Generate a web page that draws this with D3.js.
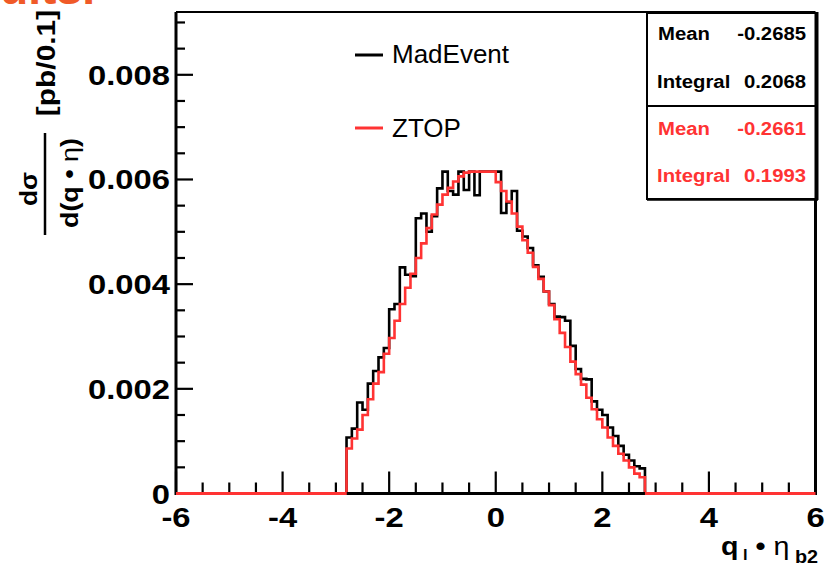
<!DOCTYPE html>
<html><head><meta charset="utf-8">
<script src="https://cdn.jsdelivr.net/npm/d3@7"></script>
<style>body{margin:0;background:#fff} svg{display:block}</style>
</head><body>
<svg id="c" width="828" height="572"></svg>
<script>
// ---- data ----
const binLow = -2.8, binWidth = 0.1;
const madEvent = [
 0.00107,0.00124,0.00174,0.00160,0.00210,0.00234,0.00260,0.00278,0.00352,0.00362,
 0.00432,0.00418,0.00415,0.00526,0.00535,0.00500,0.00530,0.00583,0.00615,0.00578,
 0.00571,0.00615,0.00580,0.00615,0.00570,0.00615,0.00615,0.00615,0.00615,0.00536,
 0.00556,0.00578,0.00502,0.00491,0.00469,0.00436,0.00414,0.00386,0.00362,0.00338,
 0.00337,0.00330,0.00282,0.00238,0.00219,0.00218,0.00176,0.00160,0.00150,0.00126,
 0.00110,0.00091,0.00074,0.00063,0.00052,0.00048];
const ztop = [
 0.00086,0.00105,0.00122,0.00150,0.00180,0.00210,0.00232,0.00267,0.00297,0.00330,
 0.00362,0.00393,0.00420,0.00450,0.00478,0.00507,0.00533,0.00552,0.00571,0.00584,
 0.00596,0.00606,0.00613,0.00615,0.00615,0.00615,0.00615,0.00615,0.00595,0.00578,
 0.00558,0.00535,0.00510,0.00484,0.00460,0.00433,0.00410,0.00386,0.00360,0.00333,
 0.00307,0.00280,0.00252,0.00228,0.00208,0.00183,0.00161,0.00142,0.00126,0.00107,
 0.00091,0.00076,0.00063,0.00050,0.00038,0.00031];
const xTickMajor = [-6,-4,-2,0,2,4,6];
const xTickLabels = ["-6","-4","-2","0","2","4","6"];
const yTickMajor = [0,0.002,0.004,0.006,0.008];
const yTickLabels = ["0","0.002","0.004","0.006","0.008"];
const legendLabels = ["MadEvent","ZTOP"];
const statsMean = ["-0.2685","-0.2661"];
const statsIntegral = ["0.2068","0.1993"];
const seriesColors = ["#000000","#ff3333"];

// ---- layout ----
const svg = d3.select("#c");
const FONT = "'Liberation Sans', Arial, Helvetica, sans-serif";
const x = d3.scaleLinear().domain([-6,6]).range([176,815.5]);
const y = d3.scaleLinear().domain([0,0.0092]).range([493.5,12]);

function stext(str, tx, ty, o){
  const t = svg.append("text")
    .attr("transform", `translate(${tx},${ty})` + (o.rot?` rotate(${o.rot})`:"") + ` scale(${o.sx||1},1)`)
    .attr("font-family", FONT).attr("font-size", o.size)
    .attr("font-weight", o.weight||"bold")
    .attr("text-anchor", o.anchor||"start")
    .attr("fill", o.fill||"#000").text(str);
  return t;
}

// top orange sliver (title text cropped by the picture edge)
stext("ults.", 0, 4, {size:44, fill:"#f05a28", sx:1.05});

// ticks
const minorX = d3.range(-6, 6.001, 0.5);
svg.append("g").selectAll("line").data(minorX).join("line")
  .attr("x1", d=>x(d)).attr("x2", d=>x(d))
  .attr("y1", y(0)).attr("y2", d=> y(0) - (Math.abs(d%2)<1e-9 ? 22 : 11))
  .attr("stroke","#000").attr("stroke-width",2.2);
const minorY = d3.range(0, 0.00901, 0.0005);
svg.append("g").selectAll("line").data(minorY).join("line")
  .attr("x1", x(-6)).attr("x2", d=> x(-6) + (Math.abs((d/0.002)-Math.round(d/0.002))<1e-6 ? 17 : 9))
  .attr("y1", d=>y(d)).attr("y2", d=>y(d))
  .attr("stroke","#000").attr("stroke-width",2.2);

// histograms
function histPoints(vals){
  const pts=[[-6,0],[binLow,0]];
  vals.forEach((v,i)=>{const a=binLow+i*binWidth; pts.push([a,v],[a+binWidth,v]);});
  pts.push([binLow+vals.length*binWidth,0],[6,0]);
  return pts;
}
const line = d3.line().x(d=>x(d[0])).y(d=>y(d[1]));
[madEvent, ztop].forEach((vals,i)=>{
  svg.append("path").attr("d", line(histPoints(vals)))
    .attr("fill","none").attr("stroke",seriesColors[i]).attr("stroke-width",2.6)
    .attr("stroke-linejoin","miter");
});

// frame
svg.append("line").attr("x1",x(-6)).attr("x2",x(-6)).attr("y1",y.range()[1]).attr("y2",y(0)+1.5).attr("stroke","#000").attr("stroke-width",3);
svg.append("line").attr("x1",x(-6)).attr("x2",x(6)).attr("y1",y.range()[1]).attr("y2",y.range()[1]).attr("stroke","#000").attr("stroke-width",2);
svg.append("line").attr("x1",x(6)).attr("x2",x(6)).attr("y1",y.range()[1]).attr("y2",y(0)+1.5).attr("stroke","#000").attr("stroke-width",3);
svg.append("line").attr("x1",x(binLow)).attr("x2",x(binLow+ztop.length*binWidth)).attr("y1",y(0)).attr("y2",y(0)).attr("stroke","#000").attr("stroke-width",3.2);
svg.append("line").attr("x1",x(-6)).attr("x2",x(binLow)).attr("y1",y(0)).attr("y2",y(0)).attr("stroke",seriesColors[1]).attr("stroke-width",3.2);
svg.append("line").attr("x1",x(binLow+ztop.length*binWidth)).attr("x2",x(6)).attr("y1",y(0)).attr("y2",y(0)).attr("stroke",seriesColors[1]).attr("stroke-width",3.2);

// tick labels
yTickMajor.forEach((v,i)=> stext(yTickLabels[i], 170, y(v)+10, {size:28, anchor:"end", sx:1.17}));
xTickMajor.forEach((v,i)=> stext(xTickLabels[i], x(v), 527, {size:28, anchor:"middle", sx:1.17}));

// x axis title: q_l • η_b2
const xt = svg.append("text").attr("font-family",FONT).attr("font-weight","bold").attr("font-size",26)
  .attr("text-anchor","end").attr("transform","translate(818,555) scale(1.1,1)");
xt.append("tspan").text("q");
xt.append("tspan").attr("font-size",15).attr("dy",5).text(" l");
xt.append("tspan").attr("dy",-5).text(" \u2022 ");
xt.append("tspan").attr("font-weight","normal").text("\u03B7");
xt.append("tspan").attr("font-size",18).attr("dy",8).text(" b2");

// y axis title
stext("[pb/0.1]", 55, 63, {size:26, rot:-90, anchor:"middle", sx:1.15});
stext("d\u03C3", 37, 189, {size:24, rot:-90, anchor:"middle", sx:1.1});
svg.append("line").attr("x1",45).attr("x2",45).attr("y1",133).attr("y2",235).attr("stroke","#000").attr("stroke-width",2.5);
const dq = svg.append("text").attr("font-family",FONT).attr("font-weight","bold").attr("font-size",24)
  .attr("text-anchor","middle").attr("transform","translate(78,183) rotate(-90) scale(1.12,1)");
dq.append("tspan").text("d(q \u2022 ");
dq.append("tspan").attr("font-weight","normal").text("\u03B7");
dq.append("tspan").text(")");

// legend
const legY = [55,128], legBase=[63,137];
legendLabels.forEach((lab,i)=>{
  svg.append("line").attr("x1",355).attr("x2",383).attr("y1",legY[i]).attr("y2",legY[i])
    .attr("stroke",seriesColors[i]).attr("stroke-width",3);
  stext(lab, 392, legBase[i], {size:25, weight:"normal", sx:1.04});
});

// stats boxes
svg.append("rect").attr("x",647).attr("y",13).attr("width",170).attr("height",186)
  .attr("fill","#fff").attr("stroke","#000").attr("stroke-width",2);
svg.append("line").attr("x1",647).attr("x2",817).attr("y1",106).attr("y2",106).attr("stroke","#000").attr("stroke-width",2);
svg.append("line").attr("x1",816.5).attr("x2",816.5).attr("y1",12).attr("y2",200).attr("stroke","#000").attr("stroke-width",4);
svg.append("line").attr("x1",647).attr("x2",818).attr("y1",199.5).attr("y2",199.5).attr("stroke","#000").attr("stroke-width",2.5);
const sBase = [[40,87.5],[135,182]];
[0,1].forEach(i=>{
  stext("Mean", 658, sBase[i][0], {size:17.5, sx:1.16, fill:seriesColors[i]});
  stext(statsMean[i], 806, sBase[i][0], {size:17.5, sx:1.16, anchor:"end", fill:seriesColors[i]});
  stext("Integral", 657, sBase[i][1], {size:17.5, sx:1.16, fill:seriesColors[i]});
  stext(statsIntegral[i], 806, sBase[i][1], {size:17.5, sx:1.16, anchor:"end", fill:seriesColors[i]});
});
</script>
</body></html>
